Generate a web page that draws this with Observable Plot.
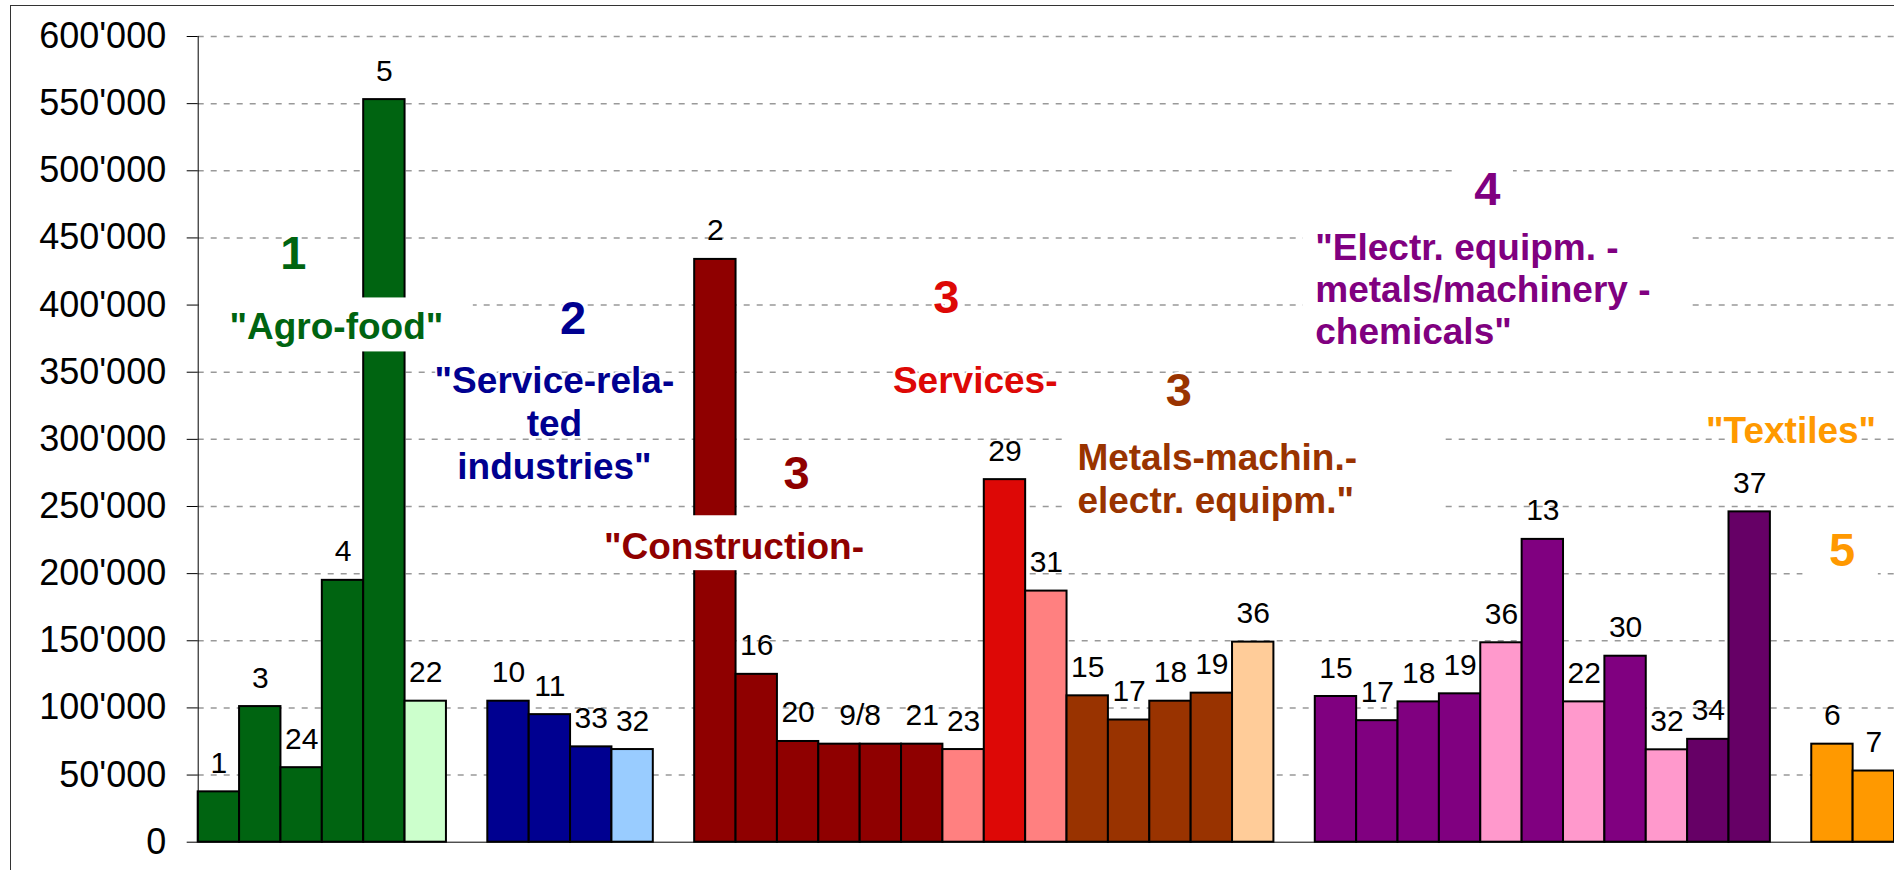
<!DOCTYPE html>
<html>
<head>
<meta charset="utf-8">
<script src="https://cdn.jsdelivr.net/npm/d3@7"></script>
<script src="https://cdn.jsdelivr.net/npm/@observablehq/plot@0.6"></script>
<style>
  html, body { margin: 0; padding: 0; background: #fff; overflow: hidden; }
  #wrap { position: relative; width: 1894px; height: 870px; overflow: hidden; background: #fff; }
  #chart { position: absolute; left: 0; top: 0; }
  #frame { position: absolute; left: 10px; top: 5px; width: 3000px; height: 3000px;
           border: 1.5px solid #333; pointer-events: none; }
</style>
</head>
<body>
<div id="wrap"><div id="chart"></div><div id="frame"></div></div>
<script>
// ---------------- data ----------------
const yTicks = [0, 50000, 100000, 150000, 200000, 250000, 300000, 350000, 400000, 450000, 500000, 550000, 600000];

// Cluster 1 "Agro-food"
const agroIds    = ["1", "3", "24", "4", "5", "22"];
const agroValues = [37500, 101000, 55500, 195000, 553000, 105000];
const agroShades = ["agro", "agro", "agro", "agro", "agro", "agroLight"];

// Cluster 2 "Service-related industries"
const serviceIds    = ["10", "11", "33", "32"];
const serviceValues = [105000, 95000, 71000, 69000];
const serviceShades = ["svc", "svc", "svc", "svcLight"];

// Cluster 3 "Construction- / Services- / Metals-machin.-electr. equipm."
const constrIds    = ["2", "16", "20", "9", "8", "21", "23", "29", "31", "15", "17", "18", "19", "36"];
const constrValues = [434000, 125000, 75000, 73000, 73000, 73000, 69000, 270000, 187000, 109000, 91000, 105000, 111000, 149000];
const constrShades = ["constr", "constr", "constr", "constr", "constr", "constr", "constrLight",
                      "services", "servicesLight", "metals", "metals", "metals", "metals", "metalsLight"];

// Cluster 4 "Electr. equipm. - metals/machinery - chemicals"
const elecIds    = ["15", "17", "18", "19", "36", "13", "22", "30", "32", "34", "37"];
const elecValues = [108500, 90500, 104500, 110500, 148500, 225500, 104500, 138500, 68800, 76600, 246000];
const elecShades = ["elec", "elec", "elec", "elec", "elecLight", "elec", "elecLight", "elec", "elecLight", "elecDark", "elecDark"];

// Cluster 5 "Textiles"
const texIds    = ["6", "7"];
const texValues = [73000, 53000];
const texShades = ["tex", "tex"];

// bars whose labels are shown together
const mergedLabels = [["9", "8"]];

// colour keys -> colours
const shadeKeys   = ["agro", "agroLight", "svc", "svcLight", "constr", "constrLight", "services", "servicesLight",
                     "metals", "metalsLight", "elec", "elecLight", "elecDark", "tex"];
const shadeColors = ["#006411", "#CCFFCC", "#000090", "#99CCFF", "#8F0000", "#FF8080", "#DD0806", "#FF8080",
                     "#993300", "#FFCC99", "#800080", "#FF99CC", "#660066", "#FF9900"];

// annotations (x in bar-slot units, y in data units)
const groupNumbers = [
  {text: "1", x: 2.30,  y: 427000, key: "agro"},
  {text: "2", x: 9.06,  y: 378300, key: "svc"},
  {text: "3", x: 14.46, y: 263000, key: "constr"},
  {text: "3", x: 18.08, y: 394300, key: "services"},
  {text: "3", x: 23.70, y: 324900, key: "metals"},
  {text: "4", x: 31.16, y: 474500, key: "elec"},
  {text: "5", x: 39.73, y: 205900, key: "tex"}
];
const centeredNames = [
  {text: "\"Agro-food\"", x: 3.34, y: 374500, key: "agro"},
  {text: "\"Service-rela-\nted\nindustries\"", x: 8.61, y: 270800, key: "svc"},
  {text: "\"Construction-", x: 12.95, y: 210900, key: "constr"},
  {text: "Services-", x: 18.78, y: 334800, key: "services"},
  {text: "\"Textiles\"", x: 38.50, y: 297600, key: "tex"}
];
const leftNames = [
  {text: "Metals-machin.-\nelectr. equipm.\"", x: 21.25, y: 245500, key: "metals"},
  {text: "\"Electr. equipm. -\nmetals/machinery -\nchemicals\"", x: 27.00, y: 370800, key: "elec"}
];
const labelBoxes = [
  {x1: 0.03,  x2: 6.65,  y1: 365100, y2: 405300},
  {x1: 9.58,  x2: 16.34, y1: 202200, y2: 243100},
  {x1: 21.01, x2: 30.14, y1: 235600, y2: 307400},
  {x1: 30.43, x2: 31.79, y1: 466300, y2: 507200},
  {x1: 26.71, x2: 35.99, y1: 361400, y2: 464800},
  {x1: 38.79, x2: 40.61, y1: 194700, y2: 237900}
];

// ---------------- build ----------------
const clusters = [
  {ids: agroIds, values: agroValues, shades: agroShades},
  {ids: serviceIds, values: serviceValues, shades: serviceShades},
  {ids: constrIds, values: constrValues, shades: constrShades},
  {ids: elecIds, values: elecValues, shades: elecShades},
  {ids: texIds, values: texValues, shades: texShades}
];
const bars = [];
let slot = 0;
clusters.forEach((c, ci) => {
  if (ci > 0) slot += 1; // empty slot between clusters
  c.ids.forEach((id, i) => {
    bars.push({id, value: c.values[i], shade: c.shades[i], x1: slot, x2: slot + 1, cluster: ci});
    slot += 1;
  });
});
const totalSlots = slot;

const barLabels = [];
for (let i = 0; i < bars.length; i++) {
  const b = bars[i], nb = bars[i + 1];
  const m = nb && nb.cluster === b.cluster && mergedLabels.find(p => p[0] === b.id && p[1] === nb.id);
  if (m) {
    barLabels.push({text: m.join("/"), x: b.x2, value: Math.max(b.value, nb.value)});
    i++;
  } else {
    barLabels.push({text: b.id, x: (b.x1 + b.x2) / 2, value: b.value});
  }
}

const fmt = d3.formatLocale({decimal: ".", thousands: "'", grouping: [3], currency: ["", ""]}).format(",");
const font = "'Liberation Sans', Arial, Helvetica, sans-serif";

const chart = Plot.plot({
  width: 1894,
  height: 870,
  marginLeft: 197.7,
  marginRight: 0,
  marginTop: 36,
  marginBottom: 28.3,
  style: {fontFamily: font, color: "black", background: "white", overflow: "visible"},
  x: {domain: [0, totalSlots], axis: null},
  y: {domain: [0, 600000], axis: null, label: null},
  color: {domain: shadeKeys, range: shadeColors},
  marks: [
    Plot.ruleY(yTicks.filter(d => d > 0), {stroke: "#999", strokeWidth: 1.5, strokeDasharray: "6,7"}),
    Plot.ruleY([0], {stroke: "black", strokeWidth: 1}),
    Plot.rect(bars, {x1: "x1", x2: "x2", y1: 0, y2: "value", fill: "shade", stroke: "black", strokeWidth: 2}),
    Plot.text(barLabels, {x: "x", y: "value", text: "text", lineAnchor: "bottom", dy: -19,
                          fontSize: 30, fill: "black"}),
    Plot.rect(labelBoxes, {x1: "x1", x2: "x2", y1: "y1", y2: "y2", fill: "white"}),
    Plot.text(groupNumbers, {x: "x", y: "y", text: "text", fill: "key", fontSize: 47, fontWeight: "bold",
                             lineAnchor: "bottom", stroke: "white", strokeWidth: 4}),
    Plot.text(centeredNames, {x: "x", y: "y", text: "text", fill: "key", fontSize: 37, fontWeight: "bold",
                              lineAnchor: "bottom", lineHeight: 1.154, textAnchor: "middle",
                              stroke: "white", strokeWidth: 4}),
    Plot.text(leftNames, {x: "x", y: "y", text: "text", fill: "key", fontSize: 37, fontWeight: "bold",
                          lineAnchor: "bottom", lineHeight: 1.14, textAnchor: "start",
                          stroke: "white", strokeWidth: 4}),
    Plot.ruleX([0], {stroke: "black", strokeWidth: 1}),
    Plot.axisY(yTicks, {anchor: "left", tickSize: 11, tickPadding: 21, tickFormat: fmt,
                        fontSize: 36, fill: "black", stroke: "black", label: null})
  ]
});
document.getElementById("chart").appendChild(chart);
</script>
</body>
</html>
